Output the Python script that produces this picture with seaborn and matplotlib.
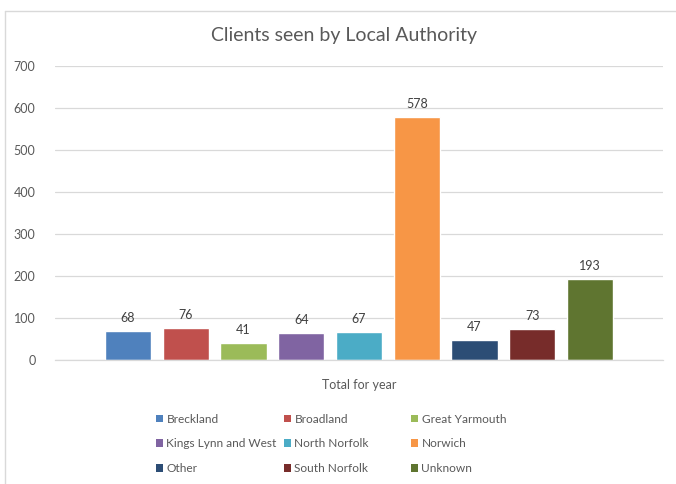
import matplotlib
matplotlib.use("Agg")
import matplotlib.pyplot as plt
import seaborn as sns
import pandas as pd
from matplotlib.lines import Line2D
from matplotlib.patches import Patch

categories = ["Breckland", "Broadland", "Great Yarmouth", "Kings Lynn and West",
              "North Norfolk", "Norwich", "Other", "South Norfolk", "Unknown"]
values = [68, 76, 41, 64, 67, 578, 47, 73, 193]
colors = ["#4F81BD", "#C0504D", "#9BBB59", "#8064A2", "#4BACC6",
          "#F79646", "#2C4D75", "#772C2A", "#5F7530"]
group_label = "Total for year"
yticks = [0, 100, 200, 300, 400, 500, 600, 700]

df = pd.DataFrame({"group": [group_label] * len(categories),
                   "authority": categories, "clients": values})

sns.set_theme(style="white")
plt.rcParams["font.family"] = ["Lato", "DejaVu Sans"]
txt = "#595959"

fig = plt.figure(figsize=(6.76, 4.84), dpi=100)
ax = fig.add_axes([55 / 676, 1 - 360 / 484, (663 - 55) / 676, (360 - 66) / 484])

sns.barplot(data=df, x="group", y="clients", hue="authority",
            hue_order=categories, palette=colors, width=0.855, gap=0.2,
            saturation=1, legend=False, ax=ax)

for cont in ax.containers:
    ax.bar_label(cont, padding=5, fontsize=9, color="#404040")

ax.set_ylim(0, 700)
ax.set_xlim(-0.5, 0.5)
ax.set_yticks(yticks)
ax.set_yticklabels([str(t) for t in yticks], fontsize=9, color=txt)
ax.tick_params(axis="y", length=0, pad=14)
ax.tick_params(axis="x", length=0, labelsize=9, labelcolor=txt, pad=14)
ax.set_xlabel("")
ax.set_ylabel("")
ax.yaxis.grid(True, color="#D9D9D9", linewidth=0.9)
ax.set_axisbelow(True)
for s in ["top", "right", "left"]:
    ax.spines[s].set_visible(False)
ax.spines["bottom"].set_color("#D9D9D9")
ax.spines["bottom"].set_linewidth(0.9)

fig.text(0.5 + 6 / 676, 1 - 36 / 484, "Clients seen by Local Authority",
         ha="center", va="center", fontsize=14, color=txt)

# legend: 3 fixed-width columns, entries in row-major order
col_x = [145, 273, 400]
for c in range(3):
    idx = [r * 3 + c for r in range(3)]
    handles = [Patch(facecolor=colors[i], edgecolor="none") for i in idx]
    labels = [categories[i] for i in idx]
    leg = fig.legend(handles, labels, ncol=1, loc="upper left",
                     bbox_to_anchor=(col_x[c] / 676, 1 - 403 / 484), frameon=False,
                     fontsize=8.6, handlelength=0.6, handleheight=0.6,
                     handletextpad=0.3, labelspacing=1.15)
    for t in leg.get_texts():
        t.set_color(txt)

# chart frame
fig.add_artist(Line2D([5 / 676, 5 / 676], [0, 1 - 11 / 484], color="#D9D9D9",
                      linewidth=1, transform=fig.transFigure))
fig.add_artist(Line2D([5 / 676, 1], [1 - 11 / 484, 1 - 11 / 484], color="#D9D9D9",
                      linewidth=1, transform=fig.transFigure))

fig.savefig("out.png", dpi=100, facecolor="white")
